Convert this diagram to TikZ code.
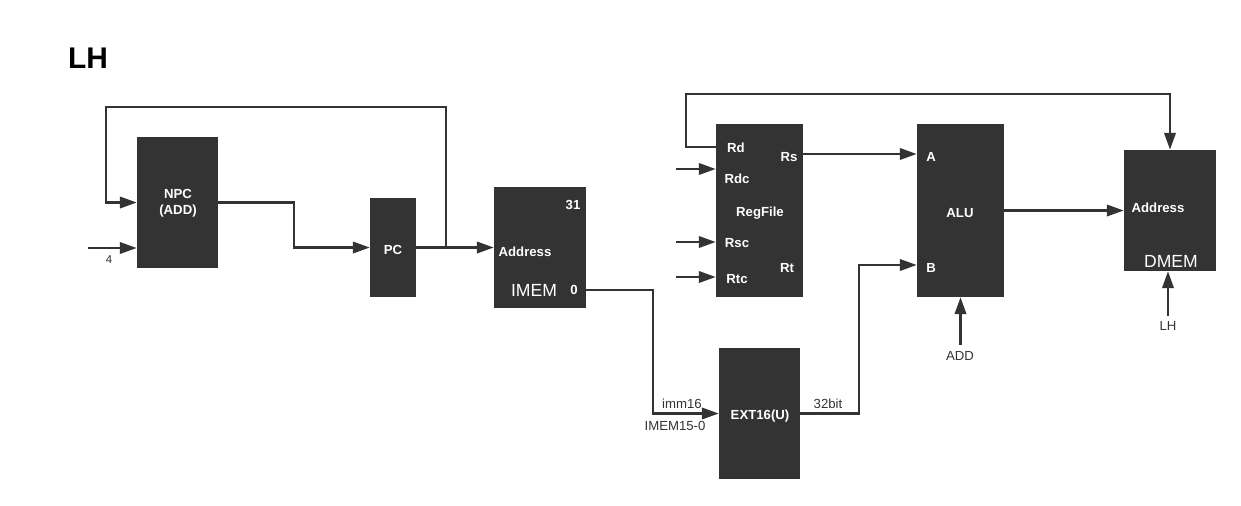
\documentclass[tikz,border=0pt]{standalone}
\usepackage{fontspec}
\setmainfont{Liberation Sans}
\usetikzlibrary{arrows.meta}
\definecolor{boxgray}{HTML}{333333}
\tikzset{
    blk/.style={fill=boxgray, draw=none, inner sep=0pt},
    inl/.style={text=white, font=\fontsize{7.5}{9}\selectfont\bfseries, inner sep=1pt, align=center},
    big/.style={text=white, font=\fontsize{10}{12}\selectfont, inner sep=1pt},
    lbl/.style={text=boxgray, font=\fontsize{7.5}{9}\selectfont, inner sep=1pt},
    wire/.style={draw=boxgray, line width=1.2pt},
    arr/.style={wire, -{Triangle[length=9.5pt, width=6.5pt]}},
}
\begin{document}
\begin{tikzpicture}[x=0.02cm, y=-0.02cm]
    \useasboundingbox (0,0) rectangle (1241,505);
    % title
    \node[font=\fontsize{17}{20}\selectfont\bfseries] (title) at (88,58) {LH};

    % blocks
    \node[blk, minimum width=1.62cm, minimum height=2.62cm] (npc) at (177.5,202.5) {};
    \node[blk, minimum width=0.92cm, minimum height=1.98cm] (pc) at (393,247.5) {};
    \node[blk, minimum width=1.84cm, minimum height=2.42cm] (imem) at (540,247.5) {};
    \node[blk, minimum width=1.74cm, minimum height=3.46cm] (reg) at (759.5,210.5) {};
    \node[blk, minimum width=1.62cm, minimum height=2.62cm] (ext) at (759.5,413.5) {};
    \node[blk, minimum width=1.74cm, minimum height=3.46cm] (alu) at (960.5,210.5) {};
    \node[blk, minimum width=1.84cm, minimum height=2.42cm] (dmem) at (1170,210.5) {};

    % texts in blocks
    \node[inl] (npcT) at (178,203) {NPC\\(ADD)};
    \node[inl] (pcT) at (393,250) {PC};
    \node[inl] (im31) at (573,205) {31};
    \node[inl] (imAddr) at (525,252) {Address};
    \node[big] (imT) at (534,290) {IMEM};
    \node[inl] (im0) at (574,290) {0};
    \node[inl] (rd) at (736,148) {Rd};
    \node[inl] (rs) at (789,157) {Rs};
    \node[inl] (rdc) at (737,179) {Rdc};
    \node[inl] (regT) at (760,213) {RegFile};
    \node[inl] (rsc) at (737,243) {Rsc};
    \node[inl] (rt) at (787,268) {Rt};
    \node[inl] (rtc) at (737,279) {Rtc};
    \node[inl] (extT) at (760,416) {EXT16(U)};
    \node[inl] (aluA) at (931,157) {A};
    \node[inl] (aluT) at (960,213) {ALU};
    \node[inl] (aluB) at (931,268) {B};
    \node[inl] (dmAddr) at (1158,208) {Address};
    \node[big] (dmT) at (1171,261) {DMEM};

    % outer labels
    \node[lbl, font=\fontsize{6.5}{8}\selectfont] (four) at (109,260) {4};
    \node[lbl] (imm) at (682,404) {imm16};
    \node[lbl] (immsrc) at (675,426) {IMEM15-0};
    \node[lbl] (bits) at (828,404) {32bit};
    \node[lbl] (addop) at (960,356) {ADD};
    \node[lbl] (lhop) at (1168,326) {LH};

    % PC loop
    \coordinate (tap) at (446,247.5);
    \coordinate (cin) at (88,248);
    \draw[wire] (pc.east) -- (tap);
    \draw[arr] (tap) |- (106,107) |- (npc.west);
    \draw[arr] (cin) -- (cin -| npc.west);
    \draw[arr] (npc.east) -- ++(76,0) |- (pc.west);
    \draw[arr] (tap) -- (imem.west |- tap);

    % immediate
    \draw[arr] (imem.east |- im0) -- (653,290) |- (ext.west);
    \draw[arr] (ext.east) -- ++(59,0) |- (alu.west |- 0,265);

    % register file
    \draw[arr] (reg.east |- 0,154) -- (alu.west |- 0,154);
    \draw[arr] (reg.west |- 0,147) -- (686,147) |- (1170,94) -- (dmem.north);
    \foreach \y/\n in {169/rdcIn, 242/rscIn, 277/rtcIn} {
        \coordinate (\n) at (676,\y);
        \draw[arr] (\n) -- (\n -| reg.west);
    }

    % ALU and DMEM
    \draw[arr] (alu.east) -- (dmem.west);
    \coordinate (addIn) at (960.5,345);
    \draw[arr] (addIn) -- (alu.south);
    \coordinate (lhIn) at (1168,316);
    \draw[arr] (lhIn) -- (lhIn |- dmem.south);
\end{tikzpicture}
\end{document}
